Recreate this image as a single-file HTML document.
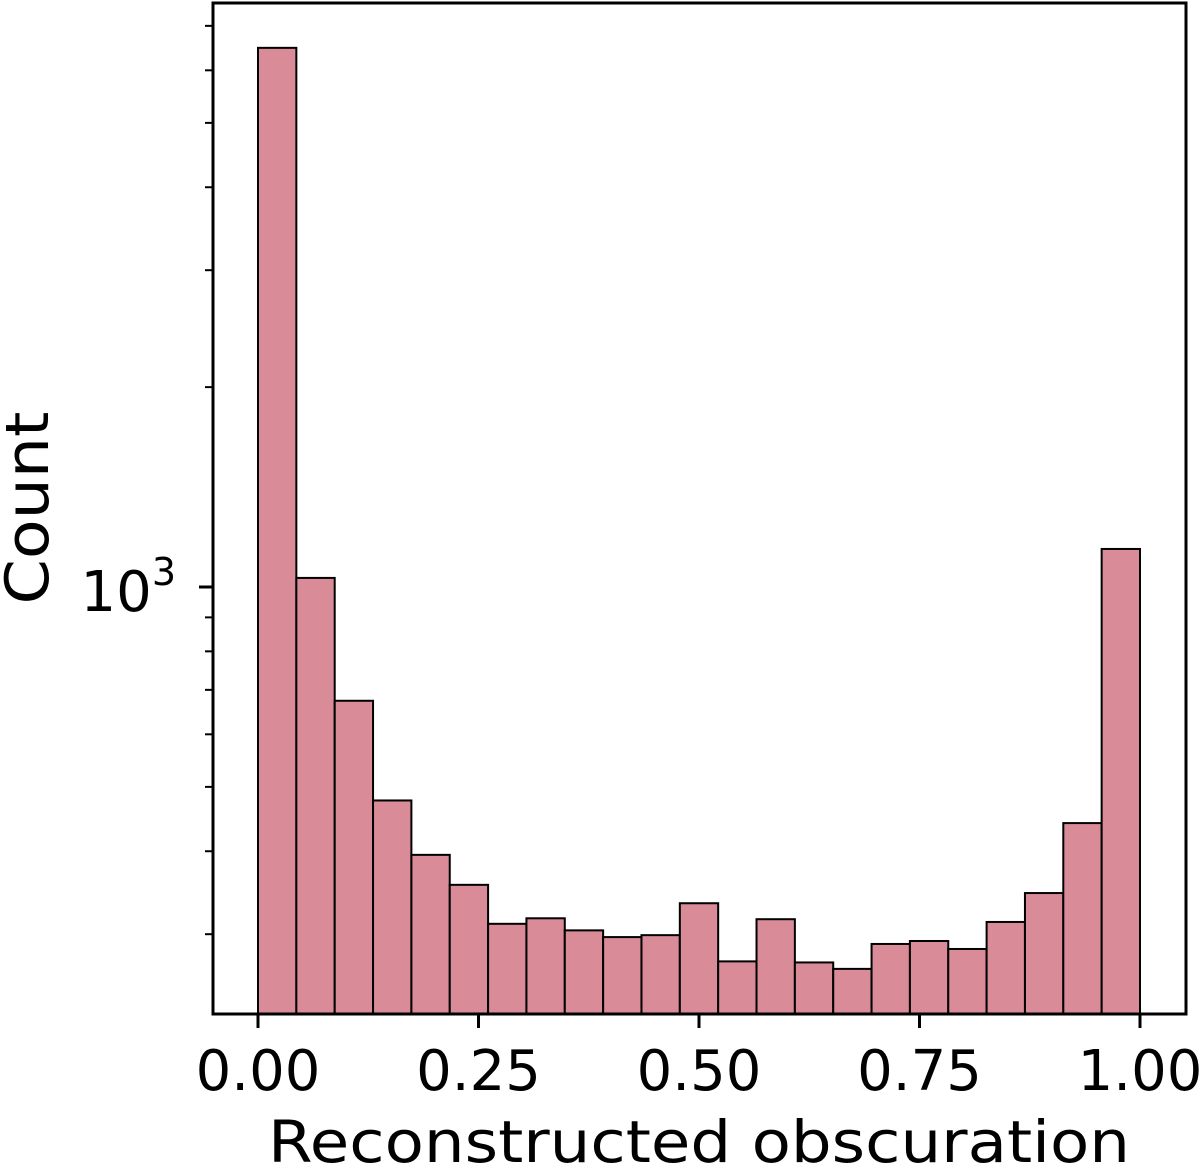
<!DOCTYPE html>
<html><head><meta charset="utf-8"><style>
html,body{margin:0;padding:0;background:#fff;}
svg{display:block;font-family:"DejaVu Sans","Liberation Sans",sans-serif;}
</style></head><body>
<svg id="chart" width="1200" height="1170" viewBox="0 0 1200 1170" xmlns="http://www.w3.org/2000/svg">
<g id="bars"></g>
<g id="axes"></g>
</svg>
<script>
const binCounts = [6486,1032,674,477,395,356,311,317,304,297,299,334,273,316,272,266,290,293,285,313,346,441,1141];
const xTickValues = [0,0.25,0.5,0.75,1.0];
const xTickLabels = ["0.00","0.25","0.50","0.75","1.00"];
const yMinorValues = [300,400,500,600,700,800,900,2000,3000,4000,5000,6000,7000];
const xMin = 0, xMax = 1;

const NS = "http://www.w3.org/2000/svg";
const PL = 213, PR = 1186, PT = 3, PB = 1014;
const X0 = 258, X1 = 1140;
function sx(v){ return X0 + (v - xMin) / (xMax - xMin) * (X1 - X0); }
const Y1000 = 587, DEC = 664;
function sy(v){ return Y1000 - (Math.log10(v) - 3) * DEC; }
function mk(tag, attrs, parent){
  const e = document.createElementNS(NS, tag);
  for (const k in attrs) e.setAttribute(k, attrs[k]);
  parent.appendChild(e); return e;
}
const bars = document.getElementById('bars');
const axes = document.getElementById('axes');
const n = binCounts.length, bw = (xMax - xMin) / n;
binCounts.forEach((c, i) => {
  const xa = sx(xMin + i * bw), xb = sx(xMin + (i + 1) * bw), y = sy(c);
  const r = mk('rect', {x: xa, y: y, width: xb - xa, height: PB - y, fill: '#d98b98', stroke: '#000', 'stroke-width': 2}, bars);
  
  
});
const frame = mk('rect', {x: PL, y: PT, width: PR - PL, height: PB - PT, fill: 'none', stroke: '#000', 'stroke-width': 3}, axes);


xTickValues.forEach((v, i) => {
  const x = sx(v);
  const t = mk('line', {x1: x, y1: PB, x2: x, y2: PB + 14, stroke: '#000', 'stroke-width': 3}, axes);
  
  
  const l = mk('text', {x: x, y: 1090, 'font-size': 56, 'text-anchor': 'middle', fill: '#000'}, axes);
  l.textContent = xTickLabels[i];
  
  
});
const major = mk('line', {x1: PL - 14, y1: sy(1000), x2: PL, y2: sy(1000), stroke: '#000', 'stroke-width': 3}, axes);


yMinorValues.forEach(v => {
  const t = mk('line', {x1: PL - 8, y1: sy(v), x2: PL, y2: sy(v), stroke: '#000', 'stroke-width': 2}, axes);
  
  
});
const yl = mk('text', {x: 176, y: sy(1000) + 24, 'font-size': 56, 'text-anchor': 'end', fill: '#000'}, axes);
yl.innerHTML = '10<tspan font-size="38" dy="-26">3</tspan>';


const xt = mk('text', {x: 699, y: 1162, 'font-size': 58, 'text-anchor': 'middle', fill: '#000', textLength: 862, lengthAdjust: 'spacingAndGlyphs'}, axes);
xt.textContent = 'Reconstructed obscuration';


const ytt = mk('text', {x: 0, y: 0, 'font-size': 60, 'text-anchor': 'middle', fill: '#000', transform: 'translate(48,508) rotate(-90)', textLength: 193, lengthAdjust: 'spacingAndGlyphs'}, axes);
ytt.textContent = 'Count';


</script>
</body></html>
